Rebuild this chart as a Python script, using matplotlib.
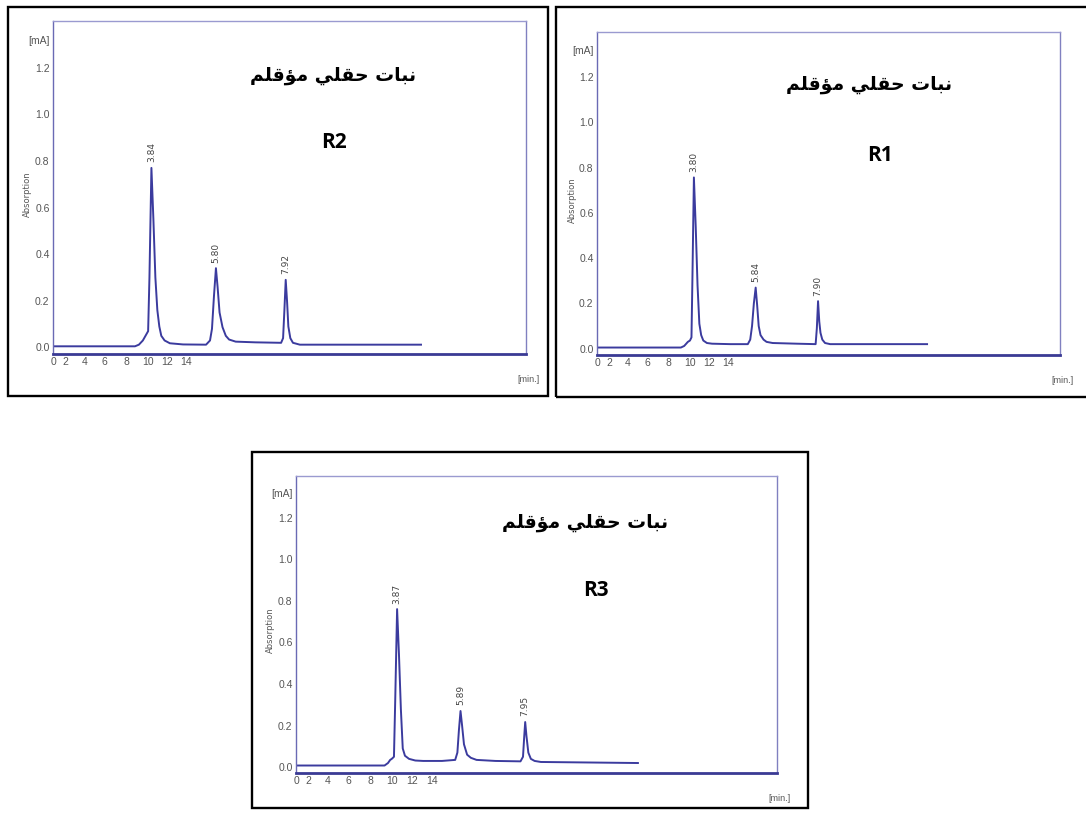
import numpy as np
import matplotlib
matplotlib.use("Agg")
import matplotlib.pyplot as plt
from matplotlib.patches import Rectangle

W, H = 1086, 813

TRACE_COLOR = "#3b3b9e"
TICK_COLOR = "#555555"
TICK_FONT = ["Liberation Sans", "DejaVu Sans"]

TITLE = "نبات حقلي مؤقلم"
Y_TICKS = [0.0, 0.2, 0.4, 0.6, 0.8, 1.0, 1.2]
X_TICK_LABELS = ["0", "2", "4", "6", "8", "10", "12", "14"]

# R2 run (retention time in min, absorbance in mA)
r2_time = [0.85, 3.34, 3.46, 3.58, 3.66, 3.74, 3.78, 3.84, 3.90, 3.96, 4.02, 4.08,
           4.14, 4.24, 4.40, 4.80, 5.50, 5.62, 5.68, 5.74, 5.80, 5.85, 5.91, 6.00,
           6.10, 6.20, 6.40, 7.00, 7.78, 7.84, 7.88, 7.92, 7.96, 8.00, 8.06, 8.14,
           8.35, 12.03]
r2_abs = [0.005, 0.005, 0.012, 0.030, 0.050, 0.070, 0.300, 0.770, 0.550, 0.300, 0.160, 0.090,
          0.050, 0.030, 0.018, 0.013, 0.012, 0.030, 0.080, 0.220, 0.340, 0.260, 0.150, 0.087,
          0.050, 0.034, 0.025, 0.022, 0.020, 0.040, 0.160, 0.290, 0.200, 0.090, 0.040, 0.020,
          0.012, 0.012]
r2_peaks = [3.84, 5.80, 7.92]

# R1 run
r1_time = [0.60, 3.37, 3.48, 3.60, 3.67, 3.72, 3.75, 3.80, 3.86, 3.92, 3.98, 4.04,
           4.11, 4.23, 4.40, 5.00, 5.58, 5.66, 5.72, 5.78, 5.84, 5.89, 5.94, 6.00,
           6.10, 6.20, 6.40, 7.20, 7.82, 7.86, 7.90, 7.94, 7.98, 8.04, 8.13, 8.30,
           11.50]
r1_abs = [0.005, 0.005, 0.012, 0.030, 0.036, 0.050, 0.300, 0.757, 0.540, 0.280, 0.110, 0.060,
          0.036, 0.025, 0.022, 0.020, 0.020, 0.040, 0.100, 0.200, 0.270, 0.190, 0.100, 0.060,
          0.040, 0.030, 0.025, 0.022, 0.020, 0.090, 0.210, 0.120, 0.070, 0.040, 0.025, 0.020,
          0.020]
r1_peaks = [3.80, 5.84, 7.90]

# R3 run
r3_time = [0.65, 3.47, 3.58, 3.65, 3.70, 3.77, 3.81, 3.87, 3.93, 3.99, 4.05, 4.12,
           4.25, 4.45, 4.70, 5.30, 5.72, 5.79, 5.84, 5.89, 5.94, 6.00, 6.10, 6.22,
           6.40, 7.00, 7.80, 7.88, 7.92, 7.95, 7.99, 8.05, 8.13, 8.25, 8.45, 11.54]
r3_abs = [0.008, 0.008, 0.020, 0.035, 0.040, 0.050, 0.320, 0.760, 0.540, 0.280, 0.090, 0.055,
          0.040, 0.032, 0.030, 0.030, 0.035, 0.070, 0.180, 0.270, 0.200, 0.110, 0.060, 0.045,
          0.035, 0.030, 0.028, 0.050, 0.150, 0.217, 0.150, 0.070, 0.040, 0.030, 0.025, 0.020]
r3_peaks = [3.87, 5.89, 7.95]

# Arabic presentation forms: isolated, final, initial, medial
FORMS = {
    "ا": ("\ufe8d", "\ufe8e", None, None),
    "ؤ": ("\ufe85", "\ufe86", None, None),
    "ب": ("\ufe8f", "\ufe90", "\ufe91", "\ufe92"),
    "ت": ("\ufe95", "\ufe96", "\ufe97", "\ufe98"),
    "ح": ("\ufea1", "\ufea2", "\ufea3", "\ufea4"),
    "ق": ("\ufed5", "\ufed6", "\ufed7", "\ufed8"),
    "ل": ("\ufedd", "\ufede", "\ufedf", "\ufee0"),
    "م": ("\ufee1", "\ufee2", "\ufee3", "\ufee4"),
    "ن": ("\ufee5", "\ufee6", "\ufee7", "\ufee8"),
    "ي": ("\ufef1", "\ufef2", "\ufef3", "\ufef4"),
}


def shape_arabic(text):
    out = []
    for i, ch in enumerate(text):
        if ch not in FORMS:
            out.append(ch)
            continue
        prev = text[i - 1] if i > 0 else ""
        nxt = text[i + 1] if i + 1 < len(text) else ""
        joins_prev = prev in FORMS and FORMS[prev][2] is not None
        joins_next = nxt in FORMS and FORMS[ch][2] is not None
        iso, fin, ini, med = FORMS[ch]
        if joins_prev and joins_next:
            out.append(med)
        elif joins_prev:
            out.append(fin)
        elif joins_next:
            out.append(ini)
        else:
            out.append(iso)
    return "".join(reversed(out))


def px_rect(x0, y0, x1, y1):
    return [x0 / W, 1 - y1 / H, (x1 - x0) / W, (y1 - y0) / H]


# tick offsets along the time axis, as fraction of axis width
TICK_FRAC = [0.002, 0.026, 0.066, 0.108, 0.155, 0.200, 0.242, 0.282]

panels = [
    dict(name="R2", t=r2_time, a=r2_abs, peaks=r2_peaks, frame=(8, 7, 548, 396),
         box=(53, 21, 526, 354), xlim=(0.85, 15.22), title_xy=(0.592, 0.835), tag_xy=(0.594, 0.634)),
    dict(name="R1", t=r1_time, a=r1_abs, peaks=r1_peaks, frame=(556, 7, 1095, 397),
         box=(597, 32, 1060, 355), xlim=(0.60, 15.89), title_xy=(0.587, 0.839), tag_xy=(0.611, 0.619)),
    dict(name="R3", t=r3_time, a=r3_abs, peaks=r3_peaks, frame=(252, 452, 808, 808),
         box=(296, 476, 777, 773), xlim=(0.65, 15.97), title_xy=(0.601, 0.845), tag_xy=(0.624, 0.616)),
]

fig = plt.figure(figsize=(W / 100, H / 100), dpi=100)
fig.patch.set_facecolor("white")

title_text = shape_arabic(TITLE)

for p in panels:
    fx0, fy0, fx1, fy1 = p["frame"]
    fig.add_artist(Rectangle((fx0 / W, 1 - fy1 / H), (fx1 - fx0) / W, (fy1 - fy0) / H,
                             transform=fig.transFigure, fill=False, edgecolor="black",
                             linewidth=1.7))

    ax = fig.add_axes(px_rect(*p["box"]))
    ax.plot(p["t"], p["a"], color=TRACE_COLOR, linewidth=1.4, solid_joinstyle="round")

    x0, x1 = p["xlim"]
    ax.set_xlim(x0, x1)
    ax.set_ylim(-0.028, 1.40)

    ax.set_yticks(Y_TICKS + [1.32])
    ax.set_yticklabels([f"{v:.1f}" for v in Y_TICKS] + ["[mA]"])
    ax.set_xticks([x0 + f * (x1 - x0) for f in TICK_FRAC])
    ax.set_xticklabels(X_TICK_LABELS)
    ax.tick_params(length=0, pad=2.5, labelsize=7.5, labelcolor=TICK_COLOR)
    for lab in ax.get_xticklabels() + ax.get_yticklabels():
        lab.set_family(TICK_FONT)

    ax.spines["left"].set_color("#6a6ab4")
    ax.spines["top"].set_color("#9a9ad0")
    ax.spines["right"].set_color("#8080c0")
    ax.spines["bottom"].set_color("#3a3a94")
    ax.spines["left"].set_linewidth(1.0)
    ax.spines["top"].set_linewidth(1.0)
    ax.spines["right"].set_linewidth(1.0)
    ax.spines["bottom"].set_linewidth(2.0)

    ax.text(-0.054, 0.48, "Absorption", transform=ax.transAxes, rotation=90,
            ha="center", va="center", fontsize=6, color=TICK_COLOR, family="DejaVu Sans")
    ax.annotate("[min.]", xy=(1.005, 0), xycoords="axes fraction", xytext=(0, -18),
                textcoords="offset points", ha="center", va="center", fontsize=6.5,
                color=TICK_COLOR, family=TICK_FONT)

    # retention time over each peak
    for rt in p["peaks"]:
        h = np.interp(rt, p["t"], p["a"])
        ax.annotate(f"{rt:.2f}", xy=(rt, h), xytext=(0, 4), textcoords="offset points",
                    rotation=90, ha="center", va="bottom", fontsize=6.5, color="#444444",
                    family="DejaVu Sans")

    ax.text(*p["title_xy"], title_text, transform=ax.transAxes, ha="center", va="center",
            fontsize=13.5, fontweight="bold", color="black", family="DejaVu Sans")
    ax.text(*p["tag_xy"], p["name"], transform=ax.transAxes, ha="center", va="center",
            fontsize=15, fontweight="bold", color="black", family="Open Sans")

fig.savefig("out.png", dpi=100, facecolor="white")
